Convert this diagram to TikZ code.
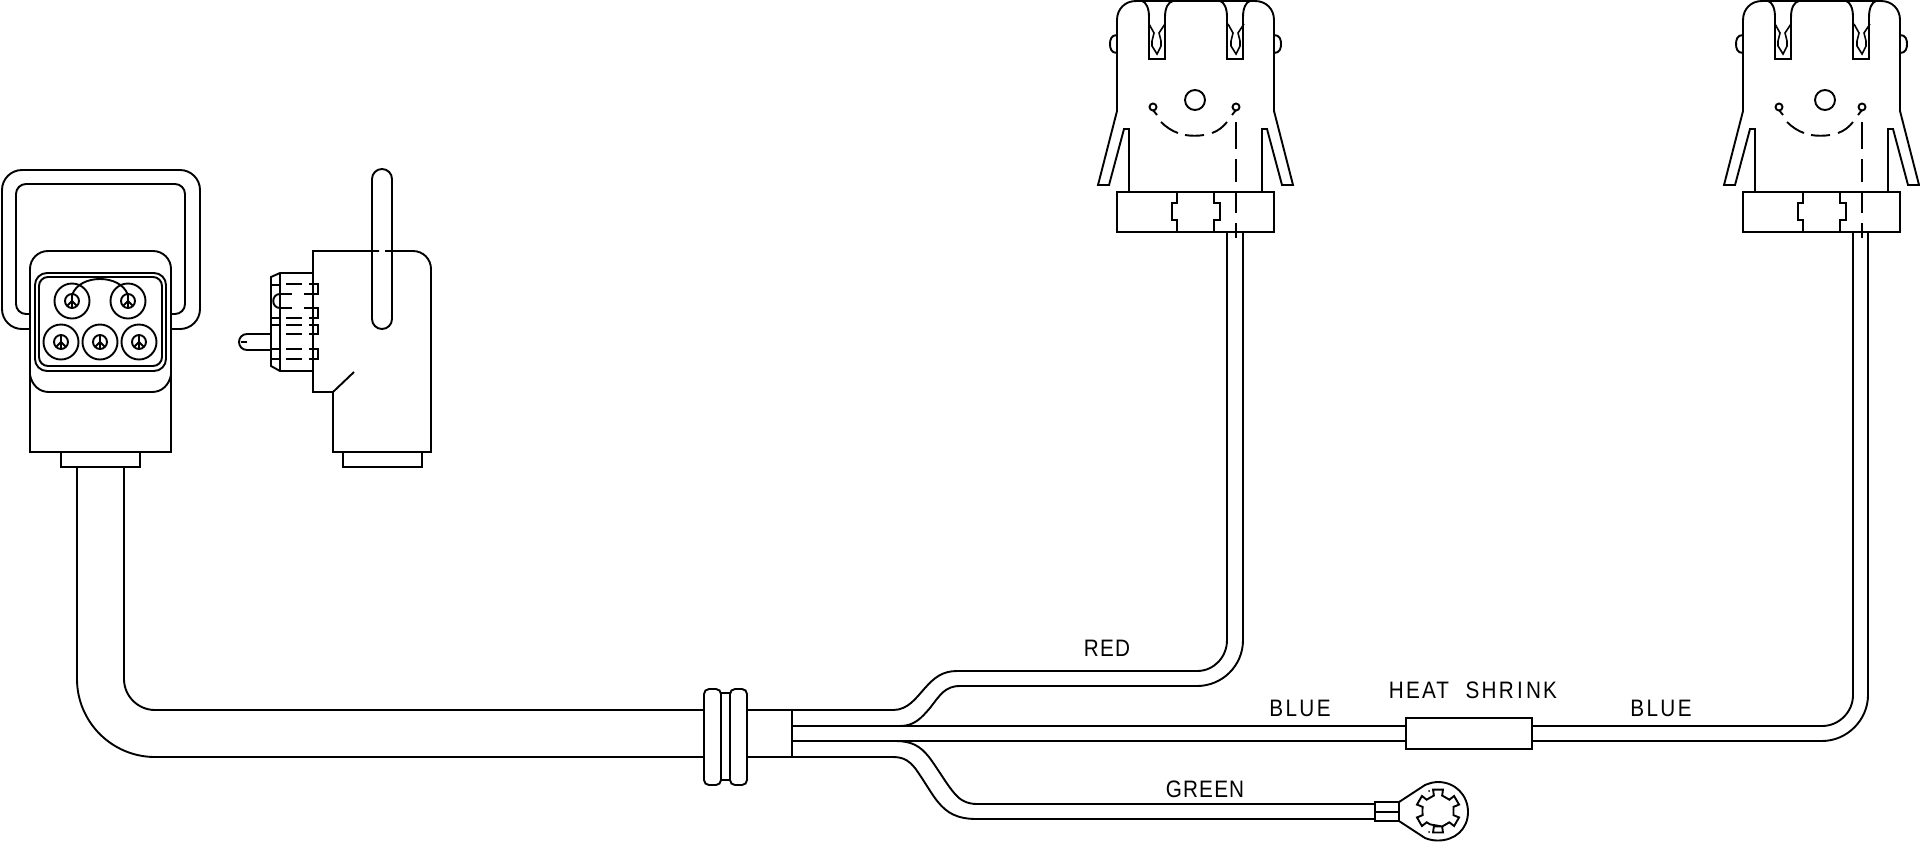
\documentclass[tikz,border=0pt]{standalone}
\usepackage{fontspec}
\setmainfont[LetterSpace=5,FakeStretch=0.87]{Liberation Sans}
\tikzset{
  ln/.style={line width=0.95pt,line join=miter,line cap=butt},
  lbl/.style={inner sep=0pt,anchor=base,font=\fontsize{11.9}{14}\selectfont},
  pinsign/.pic={
    \draw[ln] (0,0) circle[radius=17.5];
    \draw[ln] (0,0) circle[radius=7];
    \draw[ln] (0,-7) -- (0,7) (0,0) -- (-5,5) (0,0) -- (5,5);
  },
  clipslot/.pic={
    \draw[ln,line width=0.8pt] (1149,24) -- (1154,33) -- (1152,41) -- (1152,46) -- (1157,54) -- (1161,46) -- (1161,41) -- (1159,33) -- (1165,24);
  },
  plugconn/.pic={
    \draw[ln] (1117,111) -- (1117,20) .. controls (1117,9) and (1125,1) .. (1136,1)
      -- (1142,1) .. controls (1146,2) and (1149,8) .. (1149,17) -- (1149,59) -- (1165,59) -- (1165,17)
      .. controls (1165,8) and (1168,2) .. (1173,1) -- (1220,1)
      .. controls (1224,2) and (1227,8) .. (1227,17) -- (1227,59) -- (1243,59) -- (1243,17)
      .. controls (1243,8) and (1246,2) .. (1250,1) -- (1255,1)
      .. controls (1266,1) and (1274,9) .. (1274,20) -- (1274,111);
    \draw[ln] (1142,1) -- (1173,1) (1220,1) -- (1250,1);
    \pic {clipslot};
    \pic[xshift=39.5pt] {clipslot};
    \draw[ln] (1117,35) .. controls (1111,35) and (1110,40) .. (1110,44) .. controls (1110,48) and (1111,53) .. (1117,53);
    \draw[ln] (1274,35) .. controls (1280,35) and (1281,40) .. (1281,44) .. controls (1281,48) and (1280,53) .. (1274,53);
    \draw[ln] (1117,111) -- (1098,185) -- (1109,185) -- (1124,129) -- (1129,129) -- (1129,192);
    \draw[ln] (1274,111) -- (1293,185) -- (1282,185) -- (1267,129) -- (1262,129) -- (1262,192);
    \draw[ln] (1117,192) rectangle (1274,232);
    \draw[ln] (1177,192) -- (1177,203) -- (1172,203) -- (1172,220) -- (1177,220) -- (1177,232);
    \draw[ln] (1214,192) -- (1214,203) -- (1220,203) -- (1220,220) -- (1214,220) -- (1214,232);
    \draw[ln] (1153,107) circle[radius=3.5];
    \draw[ln] (1236,107) circle[radius=3.5];
    \draw[ln] (1153,110) -- (1157,115);
    \draw[ln] (1161,122) .. controls (1166,127) and (1172,131) .. (1178,133);
    \draw[ln] (1185,135) .. controls (1191,136) and (1198,136) .. (1204,135);
    \draw[ln] (1212,133) .. controls (1218,131) and (1223,127) .. (1227,122);
    \draw[ln] (1232,115) -- (1236,110);
    \draw[ln] (1236,122) -- (1236,149) (1236,159) -- (1236,182) (1236,192) -- (1236,213) (1236,223) -- (1236,238);
  }
}
\begin{document}
\begin{tikzpicture}[x=0.5pt,y=-0.5pt]
\useasboundingbox (0,0) rectangle (1920,841);
\fill[white] (0,0) rectangle (1920,841);

% front view: handle
\draw[ln,rounded corners=10pt] (30,329) -- (2,329) -- (2,170) -- (200,170) -- (200,329) -- (171,329);
\draw[ln,rounded corners=5pt] (30,314) -- (16,314) -- (16,184) -- (185,184) -- (185,314) -- (171,314);
% front view: housing
\draw[ln] (30,452) -- (30,269) .. controls (30,259) and (38,251) .. (48,251) -- (153,251) .. controls (163,251) and (171,259) .. (171,269) -- (171,452) -- cycle;
\draw[ln] (30,375) .. controls (32,385) and (39,392) .. (49,392) -- (152,392) .. controls (162,392) and (169,385) .. (171,375);
\draw[ln,rounded corners=6pt] (35,273) rectangle (166,371);
\draw[ln,rounded corners=4.5pt] (39,277) rectangle (162,366);
\draw[ln] (72,295) .. controls (76,284) and (88,279) .. (100,279) .. controls (112,279) and (124,284) .. (128,295);
\pic at (72,301) {pinsign};
\pic at (128,301) {pinsign};
\pic at (61,342) {pinsign};
\pic at (100,342) {pinsign};
\pic at (139,342) {pinsign};
\draw[ln] (61,452) -- (61,467) -- (140,467) -- (140,452);

% side view
\draw[ln] (379,251) -- (313,251) -- (313,392) -- (333,392) -- (333,452) -- (431,452) -- (431,269) .. controls (431,259) and (423,251) .. (413,251) -- (385,251);
\draw[ln] (333,392) -- (354,372);
\draw[ln] (343,452) -- (343,467) -- (422,467) -- (422,452);
\draw[ln,rounded corners=5pt,fill=none] (372,169) rectangle (392,329);
\draw[ln] (313,273) -- (280,273) -- (271,277) -- (271,366) -- (280,371) -- (313,371);
\draw[ln] (280,273) -- (280,371);
\draw[ln] (271,285) -- (280,285) (271,318) -- (280,318) (271,325) -- (280,325) (271,349) -- (280,349) (271,359) -- (280,359);
\draw[ln] (286,284) -- (302,284) (309,284) -- (318,284) -- (318,294) -- (304,294) (280,294) -- (292,294);
\draw[ln] (280,294) .. controls (271,294) and (271,308) .. (280,308);
\draw[ln] (280,308) -- (292,308) (304,308) -- (318,308) -- (318,318) -- (309,318) (302,318) -- (286,318);
\draw[ln] (286,325) -- (302,325) (309,325) -- (318,325) -- (318,334) -- (309,334) (302,334) -- (286,334);
\draw[ln] (286,349) -- (302,349) (309,349) -- (318,349) -- (318,359) -- (309,359) (302,359) -- (286,359);
\draw[ln] (271,334) -- (247,334) .. controls (242,334) and (239,338) .. (239,342) .. controls (239,346) and (242,350) .. (247,350) -- (271,350);
\draw[ln] (241,342) -- (247,342);

% top plugs
\pic {plugconn};
\pic[xshift=313pt] {plugconn};
\draw[ln] (1195,100) circle[radius=10];
\draw[ln] (1825,100) circle[radius=10];

% main cable
\draw[ln] (124,467) -- (124,679) .. controls (124,696) and (138,710) .. (155,710) -- (704,710);
\draw[ln] (77,467) -- (77,679) .. controls (77,722) and (112,757) .. (155,757) -- (704,757);
% grommet
\draw[ln,rounded corners=2.5pt] (704,689) rectangle (721,785);
\draw[ln,rounded corners=2.5pt] (730,689) rectangle (747,785);
\draw[ln] (721,693) -- (730,693) (721,780) -- (730,780);
\draw[ln] (747,710) -- (792,710) (747,757) -- (792,757);
\draw[ln] (792,710) -- (792,757);

% red wire
\draw[ln] (792,710) -- (893,710) .. controls (908,710) and (916,698) .. (925,688) .. controls (934,678) and (942,671) .. (957,671)
  -- (1197,671) .. controls (1214,671) and (1227,657) .. (1227,640) -- (1227,232);
\draw[ln] (900,726) .. controls (915,726) and (922,717) .. (930,708) .. controls (940,695) and (945,686) .. (960,686)
  -- (1197,686) .. controls (1222,686) and (1243,666) .. (1243,640) -- (1243,232);
% blue wire
\draw[ln] (792,726) -- (1406,726) (1532,726) -- (1822,726) .. controls (1839,726) and (1853,712) .. (1853,695) -- (1853,232);
\draw[ln] (792,741) -- (1406,741) (1532,741) -- (1822,741) .. controls (1847,741) and (1868,720) .. (1868,695) -- (1868,232);
\draw[ln] (1406,718) rectangle (1532,749);
% green wire
\draw[ln] (895,741) .. controls (912,741) and (920,746) .. (929,757) .. controls (940,772) and (947,785) .. (955,794) .. controls (960,800) and (967,804) .. (977,804) -- (1375,804);
\draw[ln] (792,757) -- (893,757) .. controls (905,757) and (910,762) .. (915,768) .. controls (925,782) and (932,795) .. (938,802) .. controls (947,813) and (957,819) .. (977,819) -- (1375,819);
% ring terminal
\draw[ln] (1375,802) rectangle (1399,821);
\draw[ln] (1375,812) -- (1399,812);
\draw[ln] (1399,802) -- (1425,785) .. controls (1430,783) and (1434,782) .. (1438,782)
  .. controls (1455,782) and (1468,795) .. (1468,812) .. controls (1468,829) and (1455,840.5) .. (1438,840.5)
  .. controls (1434,840.5) and (1430,840) .. (1425,838) -- (1399,821);
\begin{scope}[shift={(1438,811)}]
\draw[ln] (75:16) \foreach \a in {90,30,-30,-90,-150,-210} { -- (\a+15:16) -- (\a+13:22) -- (\a-13:22) -- (\a-15:16) -- (\a-30:15.5) } -- cycle;
\end{scope}
\fill (1429,791) circle[radius=1];
\fill (1429,832) circle[radius=1];

% labels
\node[lbl] (redlabel) at (1107,656) {RED};
\node[lbl] (bluelabela) at (1300,716) {\addfontfeature{LetterSpace=10}BLUE};
\node[lbl] (heatlabel) at (1473,698) {\addfontfeature{LetterSpace=9}HEAT\hspace{0.7em}SHR\hspace{0.14em}I\hspace{0.14em}NK};
\node[lbl] (bluelabelb) at (1661,716) {\addfontfeature{LetterSpace=10}BLUE};
\node[lbl] (greenlabel) at (1205,797) {GREEN};
\end{tikzpicture}
\end{document}
